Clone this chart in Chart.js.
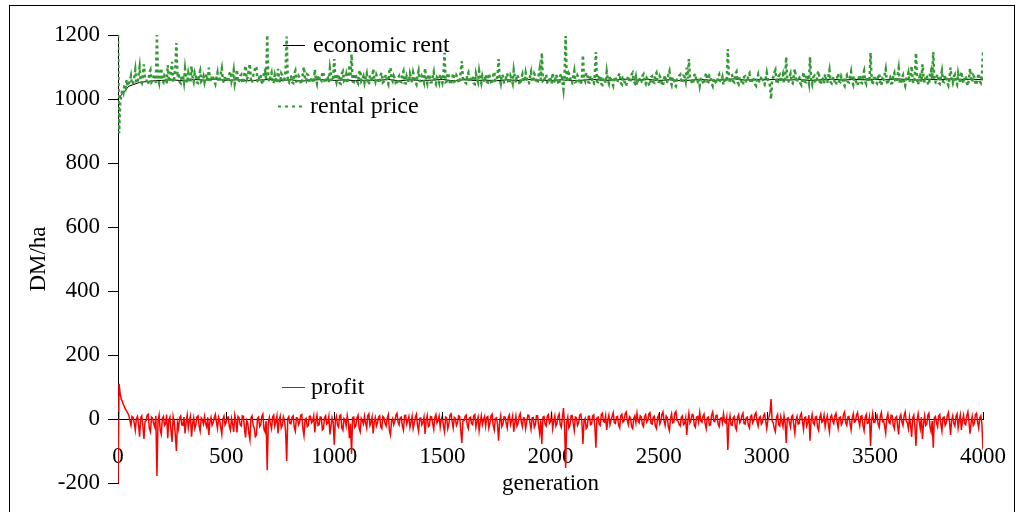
<!DOCTYPE html>
<html>
<head>
<meta charset="utf-8">
<script src="https://cdn.jsdelivr.net/npm/chart.js@4.4.1/dist/chart.umd.min.js"></script>
<style>
  html, body { margin: 0; padding: 0; background: #fff; }
  #wrap { position: relative; width: 1017px; height: 512px; }
</style>
</head>
<body>
<div id="wrap"><canvas id="grafico" width="1017" height="512"></canvas></div>
<script>
// Daten - rental price und profit alle 5 Generationen, economic rent alle 50
const stepFine = 5;
const stepRent = 50;

const rentalPrice = [
  1200, 893, 990, 1010, 1030, 1020, 1045, 1035, 1060, 1040, 1050, 1055, 1072, 1045, 1049, 1067, 1091, 1054, 1049, 1075,
  1100, 1055, 1050, 1076, 1108, 1064, 1064, 1048, 1046, 1082, 1090, 1053, 1058, 1070, 1078, 1050, 1200, 1063, 1050, 1085,
  1096, 1056, 1052, 1074, 1070, 1047, 1106, 1061, 1054, 1087, 1116, 1052, 1064, 1098, 1175, 1068, 1082, 1054, 1050, 1072,
  1074, 1053, 1094, 1066, 1050, 1080, 1062, 1051, 1102, 1069, 1055, 1082, 1072, 1052, 1050, 1076, 1088, 1055, 1060, 1071,
  1052, 1069, 1078, 1054, 1098, 1064, 1054, 1074, 1068, 1056, 1047, 1066, 1082, 1053, 1061, 1079, 1096, 1058, 1051, 1072,
  1066, 1055, 1053, 1077, 1086, 1056, 1070, 1090, 1048, 1063, 1092, 1052, 1056, 1072, 1076, 1050, 1052, 1082, 1104, 1061,
  1068, 1093, 1110, 1055, 1050, 1074, 1080, 1102, 1098, 1056, 1053, 1077, 1072, 1052, 1046, 1084, 1090, 1063, 1200, 1066,
  1054, 1071, 1082, 1053, 1049, 1076, 1064, 1050, 1094, 1061, 1051, 1080, 1074, 1052, 1062, 1088, 1195, 1056, 1052, 1069,
  1070, 1053, 1050, 1079, 1088, 1055, 1056, 1072, 1066, 1048, 1047, 1082, 1100, 1060, 1056, 1077, 1074, 1052, 1051, 1068,
  1063, 1050, 1092, 1064, 1049, 1074, 1072, 1053, 1054, 1085, 1082, 1055, 1050, 1071, 1068, 1052, 1096, 1074, 1055, 1066,
  1125, 1063, 1052, 1072, 1078, 1050, 1048, 1080, 1086, 1056, 1060, 1076, 1049, 1064, 1106, 1069, 1140, 1055, 1053, 1079,
  1074, 1055, 1049, 1082, 1090, 1056, 1062, 1071, 1051, 1068, 1080, 1050, 1045, 1074, 1066, 1053, 1094, 1064, 1054, 1076,
  1068, 1053, 1050, 1077, 1082, 1052, 1055, 1069, 1076, 1056, 1047, 1087, 1098, 1063, 1056, 1072, 1064, 1048, 1044, 1066,
  1072, 1055, 1053, 1076, 1086, 1050, 1049, 1071, 1061, 1052, 1079, 1066, 1051, 1082, 1069, 1053, 1046, 1074, 1088, 1056,
  1056, 1072, 1066, 1053, 1096, 1061, 1049, 1077, 1074, 1052, 1052, 1069, 1084, 1055, 1047, 1068, 1063, 1051, 1078, 1060,
  1050, 1076, 1144, 1053, 1055, 1082, 1070, 1049, 1045, 1064, 1080, 1054, 1056, 1074, 1068, 1050, 1052, 1087, 1118, 1063,
  1062, 1052, 1049, 1074, 1082, 1055, 1053, 1069, 1072, 1050, 1047, 1079, 1064, 1053, 1087, 1066, 1050, 1072, 1060, 1052,
  1076, 1054, 1052, 1080, 1068, 1050, 1046, 1074, 1085, 1056, 1055, 1071, 1125, 1064, 1049, 1077, 1071, 1052, 1053, 1068,
  1080, 1053, 1048, 1072, 1063, 1050, 1090, 1068, 1051, 1076, 1069, 1052, 1045, 1066, 1077, 1055, 1056, 1082, 1066, 1049,
  1049, 1068, 1084, 1055, 1054, 1079, 1072, 1050, 1050, 1074, 1095, 1061, 1144, 1053, 1052, 1071, 1076, 1051, 1047, 1069,
  1064, 1048, 1082, 1063, 1050, 1076, 1069, 1052, 1045, 1072, 1079, 1055, 1030, 1074, 1197, 1066, 1053, 1080, 1074, 1050,
  1049, 1069, 1087, 1053, 1055, 1074, 1068, 1049, 1046, 1064, 1137, 1063, 1056, 1082, 1077, 1052, 1051, 1072, 1071, 1050,
  1048, 1076, 1147, 1055, 1053, 1071, 1074, 1047, 1044, 1064, 1066, 1050, 1085, 1061, 1049, 1072, 1061, 1052, 1042, 1068,
  1069, 1053, 1052, 1074, 1080, 1050, 1046, 1066, 1063, 1045, 1041, 1061, 1072, 1052, 1055, 1077, 1082, 1056, 1050, 1068,
  1044, 1063, 1068, 1050, 1053, 1072, 1077, 1052, 1047, 1066, 1061, 1045, 1042, 1069, 1071, 1053, 1051, 1076, 1082, 1055,
  1049, 1071, 1064, 1047, 1041, 1063, 1074, 1050, 1054, 1077, 1087, 1056, 1045, 1068, 1066, 1044, 1040, 1061, 1063, 1072,
  1076, 1053, 1050, 1072, 1069, 1055, 1098, 1064, 1125, 1068, 1061, 1047, 1049, 1074, 1079, 1053, 1052, 1066, 1042, 1063,
  1066, 1052, 1046, 1069, 1082, 1055, 1053, 1074, 1072, 1049, 1041, 1063, 1064, 1050, 1049, 1071, 1077, 1056, 1055, 1068,
  1045, 1064, 1068, 1053, 1156, 1066, 1050, 1072, 1074, 1055, 1052, 1079, 1085, 1053, 1047, 1068, 1063, 1050, 1044, 1069,
  1071, 1055, 1053, 1074, 1080, 1052, 1049, 1068, 1061, 1047, 1042, 1064, 1076, 1055, 1052, 1071, 1066, 1050, 1045, 1063,
  1082, 1061, 1054, 1042, 1000, 1063, 1068, 1082, 1090, 1053, 1047, 1072, 1076, 1052, 1064, 1077, 1050, 1068, 1131, 1056,
  1055, 1068, 1079, 1052, 1049, 1074, 1094, 1061, 1052, 1071, 1069, 1050, 1044, 1064, 1084, 1055, 1053, 1076, 1066, 1049,
  1131, 1063, 1047, 1068, 1072, 1053, 1052, 1079, 1087, 1055, 1045, 1066, 1063, 1049, 1077, 1061, 1050, 1072, 1090, 1053,
  1049, 1063, 1069, 1050, 1044, 1064, 1080, 1055, 1053, 1072, 1066, 1047, 1041, 1068, 1074, 1053, 1052, 1069, 1085, 1056,
  1045, 1066, 1064, 1049, 1042, 1063, 1076, 1052, 1050, 1074, 1087, 1055, 1047, 1069, 1068, 1053, 1144, 1061, 1044, 1066,
  1066, 1053, 1049, 1071, 1079, 1052, 1042, 1064, 1061, 1076, 1093, 1056, 1045, 1066, 1069, 1049, 1050, 1074, 1082, 1055,
  1052, 1074, 1096, 1053, 1047, 1066, 1074, 1050, 1041, 1063, 1068, 1082, 1053, 1072, 1103, 1055, 1049, 1077, 1144, 1064,
  1045, 1064, 1082, 1053, 1108, 1069, 1050, 1074, 1071, 1049, 1044, 1079, 1090, 1063, 1147, 1055, 1052, 1068, 1077, 1050,
  1047, 1071, 1088, 1055, 1053, 1074, 1068, 1050, 1042, 1064, 1098, 1061, 1050, 1069, 1076, 1052, 1045, 1080, 1063, 1049,
  1085, 1063, 1049, 1069, 1072, 1050, 1041, 1064, 1095, 1068, 1052, 1074, 1069, 1047, 1044, 1066, 1080, 1055, 1050, 1071,
  1147
];

const profit = [
  -200, 110, 80, 62, 55, 45, 38, 30, 25, 18, 12, -5, -20, 8, 5, -12, -35, 2, 8, -18,
  -55, 4, 10, -22, -62, -8, -5, 12, 15, -30, -40, 6, 3, -15, -25, 10, -178, -6, 12, -34,
  -48, 2, 8, -20, -15, 14, -60, -4, 6, -36, -72, 8, -8, -50, -100, -12, -30, 5, 10, -18,
  -20, 6, -45, -10, 12, -28, -5, 9, -55, -14, 4, -30, -18, 7, 10, -22, -38, 3, -2, -16,
  8, -14, -25, 5, -50, -8, 5, -20, -12, 3, 14, -10, -30, 6, -4, -26, -48, 0, 9, -18,
  -10, 4, 6, -24, -35, 2, -15, -40, 12, -6, -42, 8, 3, -18, -22, 10, 8, -30, -58, -4,
  -12, -44, -65, 4, 10, -20, -28, -55, -50, 2, 6, -24, -18, 8, 15, -32, -40, -6, -160, -10,
  5, -16, -30, 6, 12, -22, -8, 10, -45, -4, 9, -28, -20, 7, -5, -38, -131, 2, 8, -14,
  -15, 6, 10, -26, -38, 4, 3, -18, -10, 12, 14, -30, -52, -2, 2, -24, -20, 8, 9, -12,
  -6, 10, -42, -8, 12, -20, -18, 6, 5, -34, -30, 4, 10, -16, -12, 8, -48, -20, 4, -10,
  -80, -6, 8, -18, -25, 10, 13, -28, -35, 2, -3, -22, 11, -8, -60, -14, -109, 4, 6, -26,
  -20, 4, 12, -30, -40, 2, -5, -16, 9, -12, -28, 10, 16, -20, -10, 6, -45, -8, 5, -22,
  -12, 6, 10, -24, -30, 8, 4, -14, -22, 3, 14, -36, -50, -6, 2, -18, -8, 12, 18, -10,
  -18, 4, 6, -22, -35, 10, 12, -16, -4, 8, -26, -10, 9, -30, -14, 6, 15, -20, -38, 2,
  3, -18, -10, 6, -47, -4, 11, -24, -20, 8, 7, -14, -32, 4, 14, -12, -6, 9, -25, -2,
  10, -22, -40, 6, 4, -30, -15, 12, 16, -8, -28, 5, 2, -20, -12, 10, 8, -36, -75, -6,
  -5, 8, 12, -20, -30, 4, 6, -14, -18, 10, 14, -26, -8, 6, -36, -10, 10, -18, -2, 8,
  -22, 5, 8, -28, -12, 10, 15, -20, -34, 2, 4, -16, -68, -8, 11, -24, -16, 7, 6, -12,
  -28, 6, 13, -18, -6, 10, -40, -12, 9, -22, -14, 8, 17, -10, -24, 4, 3, -30, -10, 12,
  12, -12, -32, 4, 5, -26, -18, 10, 10, -20, -46, -4, -78, 6, 8, -16, -22, 9, 14, -14,
  -8, 12, -30, -6, 10, -22, -14, 8, 16, -18, -26, 4, 34, -20, -153, -10, 6, -28, -20, 10,
  11, -14, -36, 6, 4, -20, -12, 12, 15, -8, -78, -6, 2, -30, -24, 8, 9, -18, -16, 10,
  13, -22, -90, 4, 6, -16, -20, 14, 18, -8, -10, 10, -34, -4, 12, -18, -4, 8, 20, -12,
  -14, 6, 8, -20, -28, 10, 15, -10, -6, 16, 22, -4, -18, 8, 4, -24, -30, 2, 10, -12,
  18, -6, -12, 10, 6, -18, -24, 8, 14, -10, -4, 16, 20, -14, -16, 6, 9, -22, -30, 4,
  12, -16, -8, 14, 22, -6, -20, 10, 5, -24, -36, 2, 16, -12, -10, 18, 24, -4, -6, -18,
  -22, 6, 10, -18, -14, 4, -50, -8, 18, -12, -4, 14, 12, -20, -26, 6, 8, -10, 20, -6,
  -10, 8, 15, -14, -30, 4, 6, -20, -18, 12, 22, -6, -8, 10, 12, -16, -24, 2, 4, -12,
  16, -8, -12, 6, -97, -10, 10, -18, -20, 4, 8, -26, -34, 6, 14, -12, -6, 10, 18, -14,
  -16, 4, 6, -20, -28, 8, 12, -12, -4, 14, 20, -8, -22, 4, 8, -16, -10, 10, 16, -6,
  -30, -4, 5, 20, 62, -6, -12, -30, -40, 6, 14, -18, -22, 8, -8, -24, 10, -12, -75, 2,
  4, -12, -26, 8, 12, -20, -45, -4, 8, -16, -14, 10, 18, -8, -32, 4, 6, -22, -10, 12,
  -68, -6, 14, -12, -18, 6, 8, -26, -36, 4, 16, -10, -6, 12, -24, -4, 10, -18, -40, 6,
  12, -6, -14, 10, 18, -8, -28, 4, 6, -18, -10, 14, 22, -12, -20, 6, 8, -14, -34, 2,
  16, -10, -8, 12, 20, -6, -22, 8, 10, -20, -36, 4, 14, -14, -12, 6, -84, -4, 18, -10,
  -10, 6, 12, -16, -26, 8, 20, -8, -4, -22, -44, 2, 16, -10, -14, 12, 10, -20, -30, 4,
  8, -20, -48, 6, 14, -10, -20, 10, 22, -6, -12, -30, 6, -18, -56, 4, 12, -24, -84, -8,
  16, -8, -30, 6, -62, -14, 10, -20, -16, 12, 18, -26, -40, -6, -90, 4, 8, -12, -24, 10,
  14, -16, -38, 4, 6, -20, -12, 10, 20, -8, -50, -4, 10, -14, -22, 8, 16, -28, -6, 12,
  -34, -6, 12, -14, -18, 10, 22, -8, -46, -12, 8, -20, -14, 14, 18, -10, -28, 4, 10, -16,
  -95
];

const economicRent = [
  1000, 1040, 1052, 1056, 1058, 1060, 1057, 1061, 1059, 1062,
  1058, 1060, 1057, 1059, 1061, 1058, 1060, 1056, 1059, 1061,
  1058, 1060, 1057, 1059, 1058, 1061, 1057, 1060, 1058, 1059,
  1061, 1057, 1060, 1058, 1059, 1057, 1060, 1058, 1061, 1059,
  1058, 1060, 1057, 1059, 1061, 1058, 1060, 1062, 1059, 1061,
  1058, 1060, 1057, 1059, 1061, 1058, 1060, 1063, 1059, 1061,
  1060, 1062, 1059, 1061, 1058, 1060, 1062, 1059, 1061, 1060,
  1062, 1060, 1063, 1061, 1059, 1062, 1060, 1063, 1061, 1062,
  1060
];

const xTicks = [0, 500, 1000, 1500, 2000, 2500, 3000, 3500, 4000];
const yMin = -200, yMax = 1200, yStep = 200;

const serif = "'Liberation Serif', 'Times New Roman', serif";

// Rahmen, Achsentitel unten, Legendentexte
const rahmenPlugin = {
  id: 'rahmen',
  beforeDraw(chart) {
    const c = chart.ctx;
    c.save();
    c.fillStyle = '#fff';
    c.fillRect(0, 0, chart.width, chart.height);
    c.strokeStyle = '#000';
    c.lineWidth = 1;
    c.strokeRect(9.5, 5.5, 1005, 600);
    c.restore();
  },
  afterDraw(chart) {
    const c = chart.ctx;
    const xs = chart.scales.x, ys = chart.scales.y;
    const y0 = ys.getPixelForValue(0);
    c.save();
    // kleine Striche an der x-Achse
    c.strokeStyle = '#000';
    c.lineWidth = 1;
    xTicks.forEach(v => {
      const px = Math.round(xs.getPixelForValue(v)) + 0.5;
      c.beginPath();
      c.moveTo(px, y0 - 7);
      c.lineTo(px, y0);
      c.stroke();
    });
    // x-Titel
    c.font = '23px ' + serif;
    c.fillStyle = '#000';
    c.textAlign = 'center';
    c.textBaseline = 'middle';
    c.fillText('generation', (chart.chartArea.left + chart.chartArea.right) / 2, 484);
    // Legende
    const items = [
      { text: 'economic rent', color: '#000', dash: [], w: 1, x1: 283, x2: 305, tx: 313, y: 45 },
      { text: 'rental price', color: '#339933', dash: [3, 4], w: 2, x1: 278, x2: 303, tx: 310, y: 106 },
      { text: 'profit', color: '#ff0000', dash: [], w: 1, x1: 282, x2: 305, tx: 311, y: 387 }
    ];
    c.font = '24px ' + serif;
    c.textAlign = 'left';
    items.forEach(it => {
      c.strokeStyle = it.color;
      c.lineWidth = it.w;
      c.setLineDash(it.dash);
      c.beginPath();
      c.moveTo(it.x1, it.y + 0.5);
      c.lineTo(it.x2, it.y + 0.5);
      c.stroke();
      c.setLineDash([]);
      c.fillStyle = '#000';
      c.fillText(it.text, it.tx, it.y + 1);
    });
    c.restore();
  }
};

document.addEventListener('DOMContentLoaded', function() {
  const ctx = document.getElementById('grafico');
  new Chart(ctx, {
    type: 'line',
    data: {
      datasets: [{
        label: 'economic rent',
        data: economicRent.map((v, i) => ({ x: i * stepRent, y: v })),
        borderColor: '#000',
        borderWidth: 1,
        pointRadius: 0,
        order: 3
      }, {
        label: 'rental price',
        data: rentalPrice.map((v, i) => ({ x: i * stepFine, y: v })),
        borderColor: '#339933',
        borderWidth: 2.5,
        borderDash: [3, 3],
        pointRadius: 0,
        order: 2
      }, {
        label: 'profit',
        data: profit.map((v, i) => ({ x: i * stepFine, y: v })),
        borderColor: '#ff0000',
        borderWidth: 1.5,
        pointRadius: 0,
        order: 1
      }]
    },
    options: {
      responsive: false,
      animation: false,
      layout: { padding: { top: 35, right: 34, bottom: 29, left: 0 } },
      plugins: {
        legend: { display: false },
        tooltip: { enabled: false }
      },
      scales: {
        x: {
          type: 'linear',
          position: { y: 0 },
          min: 0,
          max: 4000,
          afterBuildTicks: s => { s.ticks = xTicks.map(v => ({ value: v })); },
          // unsichtbare Tick-Striche schieben die Beschriftung nach unten
          grid: { drawOnChartArea: false, drawTicks: true, tickLength: 24, tickColor: 'rgba(0,0,0,0)' },
          border: { color: '#000', width: 1 },
          ticks: { color: '#000', padding: 0, maxRotation: 0, callback: v => String(v), font: { family: serif, size: 23 } }
        },
        y: {
          min: yMin,
          max: yMax,
          afterFit: s => { s.width = 118; },
          grid: { drawOnChartArea: false, tickLength: 10, color: '#000' },
          border: { color: '#000', width: 1 },
          ticks: { stepSize: yStep, color: '#000', padding: 8, callback: v => String(v), font: { family: serif, size: 23 } },
          title: { display: true, text: 'DM/ha', color: '#000', padding: { top: 25, bottom: 0 }, font: { family: serif, size: 23 } }
        }
      }
    },
    plugins: [rahmenPlugin]
  });
});
</script>
</body>
</html>
